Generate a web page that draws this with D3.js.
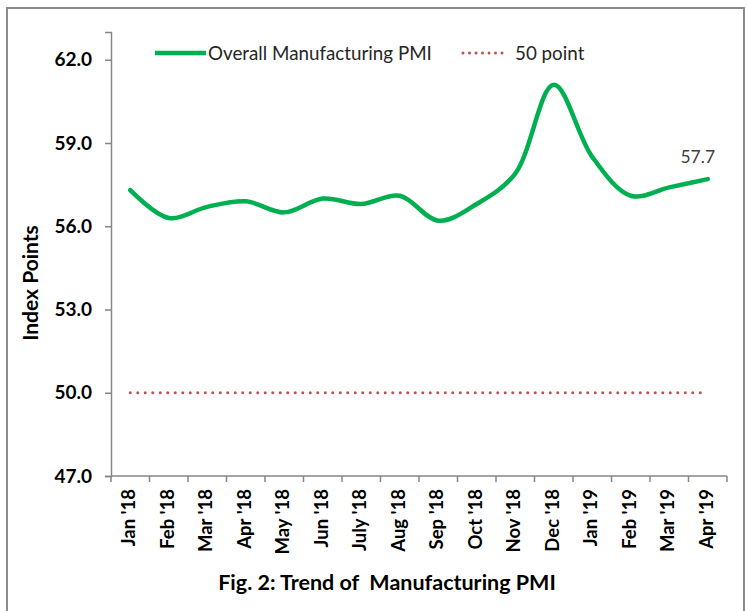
<!DOCTYPE html>
<html>
<head>
<meta charset="utf-8">
<script src="https://cdn.jsdelivr.net/npm/d3@7"></script>
<style>
  html, body { margin: 0; padding: 0; background: #fff; }
  svg { display: block; font-family: Lato, "Open Sans", sans-serif; }
</style>
</head>
<body>
<svg id="chart" width="747" height="611"></svg>
<script>
const months = ["Jan '18","Feb '18","Mar '18","Apr '18","May '18","Jun '18","July '18","Aug '18","Sep '18","Oct '18","Nov '18","Dec '18","Jan '19","Feb '19","Mar '19","Apr '19"];
const pmi = [57.3,56.3,56.7,56.9,56.5,57.0,56.8,57.1,56.2,56.8,57.9,61.1,58.5,57.1,57.4,57.7];
const threshold = [50,50,50,50,50,50,50,50,50,50,50,50,50,50,50,50];
const yTicks = [47,50,53,56,59,62];
const seriesNames = ["Overall Manufacturing PMI", "50 point"];
const title = "Fig. 2: Trend of  Manufacturing PMI";
const yTitle = "Index Points";
const lastLabel = "57.7";

const svg = d3.select("#chart");
const green = "#00B050", red = "#C0504D", axisCol = "#868686";

// outer frame
svg.append("rect").attr("x", 7).attr("y", 8).attr("width", 737).attr("height", 640)
  .attr("fill", "none").attr("stroke", "#8c8c8c").attr("stroke-width", 2);

const x = d3.scaleBand().domain(months).range([111, 727]);
const y = d3.scaleLinear().domain([47, 63]).range([476, 32]);
const cx = d => x(d) + x.bandwidth() / 2;

// y axis
const yAxis = svg.append("g").attr("transform", "translate(111,0)")
  .call(d3.axisLeft(y).tickValues(yTicks).tickFormat(d3.format(".1f")).tickSize(6).tickPadding(13));
yAxis.select(".domain").attr("stroke", axisCol).attr("stroke-width", 1.5);
yAxis.selectAll(".tick line").attr("stroke", axisCol).attr("stroke-width", 1.5);
yAxis.selectAll(".tick text").attr("font-size", 19).attr("font-weight", "bold")
  .attr("fill", "#000").attr("font-family", "Lato");

// x axis
const xAxisG = svg.append("g").attr("transform", "translate(0,476)");
xAxisG.append("line").attr("x1", 111).attr("x2", 727).attr("y1", 0).attr("y2", 0)
  .attr("stroke", axisCol).attr("stroke-width", 1.5);
const bounds = months.map(m => x(m)).concat([x(months[months.length - 1]) + x.bandwidth()]);
xAxisG.selectAll("line.tk").data(bounds).join("line").attr("class", "tk")
  .attr("x1", d => d).attr("x2", d => d).attr("y1", 0).attr("y2", 6)
  .attr("stroke", axisCol).attr("stroke-width", 1.5);
xAxisG.selectAll("text").data(months).join("text")
  .attr("transform", d => `translate(${cx(d) + 5},13) rotate(-90)`)
  .attr("text-anchor", "end")
  .attr("font-size", 18.5).attr("font-weight", "bold").attr("fill", "#000")
  .text(d => d);

// 50 line
const line50 = d3.line().x((d, i) => cx(months[i])).y(d => y(d));
svg.append("path").datum(threshold).attr("d", line50)
  .attr("fill", "none").attr("stroke", red).attr("stroke-width", 3)
  .attr("stroke-linecap", "round").attr("stroke-dasharray", "0,7.5");

// PMI line
const linePmi = d3.line().x((d, i) => cx(months[i])).y(d => y(d)).curve(d3.curveCatmullRom.alpha(0.5));
svg.append("path").datum(pmi).attr("d", linePmi)
  .attr("fill", "none").attr("stroke", green).attr("stroke-width", 4.5)
  .attr("stroke-linecap", "round").attr("stroke-linejoin", "round");

// last label
svg.append("text").attr("x", cx(months[15]) - 10).attr("y", y(pmi[15]) - 16)
  .attr("text-anchor", "middle").attr("font-size", 17.5).attr("fill", "#404040")
  .text(lastLabel);

// legend
const lg = svg.append("g");
lg.append("line").attr("x1", 155).attr("x2", 206).attr("y1", 53).attr("y2", 53)
  .attr("stroke", green).attr("stroke-width", 4.5);
lg.append("text").attr("x", 208).attr("y", 59.5).attr("font-size", 18.8).attr("fill", "#262626").text(seriesNames[0]);
lg.append("line").attr("x1", 463).attr("x2", 508).attr("y1", 53).attr("y2", 53)
  .attr("stroke", red).attr("stroke-width", 3).attr("stroke-linecap", "round").attr("stroke-dasharray", "0,6.5");
lg.append("text").attr("x", 515).attr("y", 59.5).attr("font-size", 18.8).attr("fill", "#262626").text(seriesNames[1]);

// y title
svg.append("text").attr("transform", "translate(38,283) rotate(-90)")
  .attr("text-anchor", "middle").attr("font-size", 21).attr("font-weight", "bold").attr("fill", "#000")
  .text(yTitle);

// chart title
svg.append("text").attr("x", 387).attr("y", 590).attr("text-anchor", "middle")
  .attr("xml:space", "preserve").style("white-space", "pre")
  .attr("font-size", 21.5).attr("font-weight", "bold").attr("fill", "#000")
  .text(title);
</script>
</body>
</html>
